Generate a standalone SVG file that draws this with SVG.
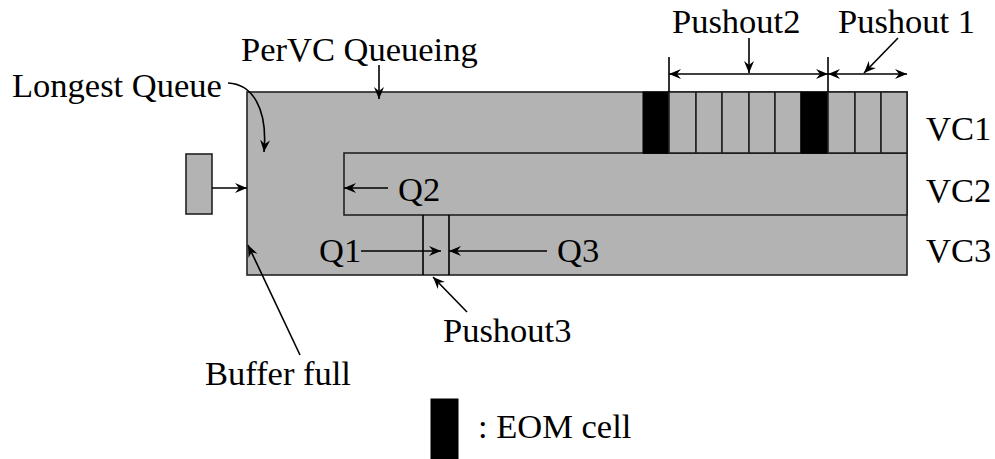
<svg xmlns="http://www.w3.org/2000/svg" width="995" height="459" viewBox="0 0 995 459">
<defs>
<style>
text{font-family:'Liberation Serif',Tinos,'Times New Roman',Times,'DejaVu Serif',serif;font-size:34.5px;fill:#000}
.g{fill:#b3b3b3;stroke:#222;stroke-width:1.6}
.k{fill:#000;stroke:#000;stroke-width:1}
.ln{fill:none;stroke:#000;stroke-width:1.6}
.a{fill:none;stroke:#000;stroke-width:1.6;marker-end:url(#ah)}
.b{fill:none;stroke:#000;stroke-width:1.6;marker-end:url(#ah);marker-start:url(#ahs)}
</style>
<marker id="ah" markerWidth="14" markerHeight="12" refX="12" refY="6" orient="auto" markerUnits="userSpaceOnUse">
<path d="M0,1 L12,6 L0,11 L4,6 z" fill="#000"/>
</marker>
<marker id="ahs" markerWidth="14" markerHeight="12" refX="12" refY="6" orient="auto-start-reverse" markerUnits="userSpaceOnUse">
<path d="M0,1 L12,6 L0,11 L4,6 z" fill="#000"/>
</marker>
</defs>

<g id="buffer">
<rect class="g" x="247" y="92" width="660" height="183"/>
<rect class="g" x="344" y="153" width="563" height="62"/>
<line class="ln" x1="643" y1="153" x2="907" y2="153"/>
</g>

<g id="vc1-cells">
<rect class="k" x="643" y="92" width="26" height="61"/>
<rect class="g" x="669" y="92" width="27" height="61"/>
<rect class="g" x="696" y="92" width="26" height="61"/>
<rect class="g" x="722" y="92" width="27" height="61"/>
<rect class="g" x="749" y="92" width="26" height="61"/>
<rect class="g" x="775" y="92" width="26" height="61"/>
<rect class="k" x="801" y="92" width="27" height="61"/>
<rect class="g" x="828" y="92" width="27" height="61"/>
<rect class="g" x="855" y="92" width="26" height="61"/>
<rect class="g" x="881" y="92" width="26" height="61"/>
</g>

<g id="pushout3-cell">
<line class="ln" x1="423" y1="215" x2="423" y2="275"/>
<line class="ln" x1="449" y1="215" x2="449" y2="275"/>
</g>

<g id="source">
<rect class="g" x="186" y="154" width="26" height="60"/>
</g>

<g id="legend">
<rect class="k" x="431" y="399" width="27" height="60"/>
<text x="478" y="438" font-family="Liberation Serif, serif">: EOM cell</text>
</g>

<g id="labels" font-family="Liberation Serif, serif">
<text x="241" y="61">PerVC Queueing</text>
<text x="12" y="97">Longest Queue</text>
<text x="672" y="33">Pushout2</text>
<text x="838" y="33">Pushout 1</text>
<text x="926" y="140">VC1</text>
<text x="926" y="202">VC2</text>
<text x="926" y="262">VC3</text>
<text x="398" y="201">Q2</text>
<text x="319" y="262">Q1</text>
<text x="557" y="262">Q3</text>
<text x="443" y="342">Pushout3</text>
<text x="205" y="385">Buffer full</text>
</g>

<g id="connectors">
<line class="a" x1="379" y1="65" x2="379" y2="99"/>
<path class="a" d="M228,83 C252,84 268,108 264,152"/>
<line class="a" x1="212" y1="188" x2="247" y2="188"/>
<line class="a" x1="388" y1="188" x2="344" y2="188"/>
<line class="a" x1="361" y1="251" x2="441" y2="251"/>
<line class="a" x1="547" y1="251" x2="449" y2="251"/>
<line class="a" x1="467" y1="312" x2="433" y2="277"/>
<line class="a" x1="300" y1="355" x2="248" y2="245"/>
<line class="ln" x1="669" y1="57" x2="669" y2="92"/>
<line class="ln" x1="828" y1="57" x2="828" y2="92"/>
<line class="b" x1="669" y1="74" x2="828" y2="74"/>
<line class="b" x1="828" y1="74" x2="907" y2="74"/>
<line class="a" x1="749" y1="38" x2="749" y2="73"/>
<line class="a" x1="898" y1="38" x2="864" y2="73"/>
</g>
</svg>
